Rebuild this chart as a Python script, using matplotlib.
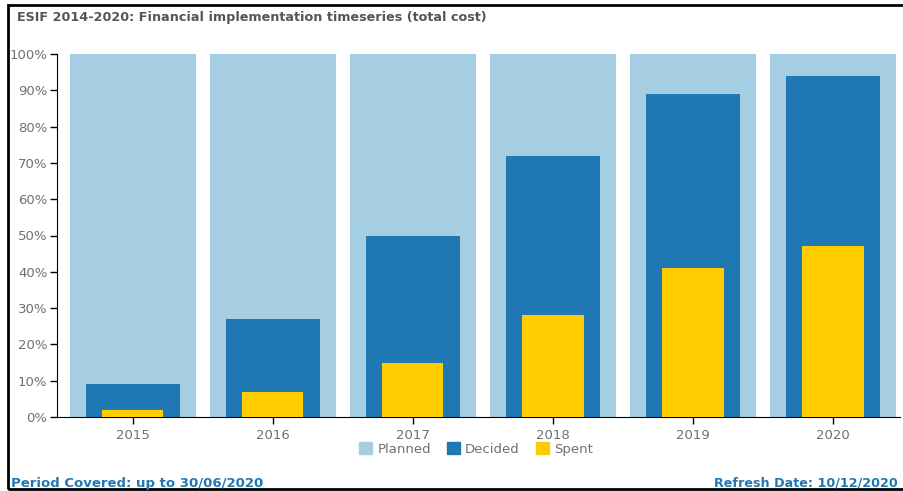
import matplotlib.pyplot as plt
from matplotlib.patches import Rectangle, Patch

years = ['2015', '2016', '2017', '2018', '2019', '2020']
planned = [100, 100, 100, 100, 100, 100]
decided = [9, 27, 50, 72, 89, 94]
spent = [2, 7, 15, 28, 41, 47]

c_planned = '#a6cee3'
c_decided = '#1f78b4'
c_spent = '#ffcc00'
grey = '#707070'

W, H = 904, 491
fig = plt.figure(figsize=(W / 100, H / 100), dpi=100)
plt.rcParams['font.family'] = ['DejaVu Sans']

# frame around the widget
fig.patches.append(Rectangle((8 / W, 2 / H), 1.0, (H - 7) / H, transform=fig.transFigure,
                             fill=False, edgecolor='black', linewidth=2))

ax = fig.add_axes([57 / W, 74 / H, (900 - 57) / W, (417 - 54) / H])
x = list(range(len(years)))
ax.bar(x, planned, width=0.9, color=c_planned, zorder=1)
ax.bar(x, decided, width=0.67, color=c_decided, zorder=2)
ax.bar(x, spent, width=0.44, color=c_spent, zorder=3)

ax.set_xlim(-0.54, 5.48)
ax.set_ylim(0, 100)
ax.set_yticks(range(0, 101, 10))
ax.set_yticklabels([f'{v}%' for v in range(0, 101, 10)])
ax.set_xticks(x)
ax.set_xticklabels(years)
ax.tick_params(axis='both', colors='black', labelcolor=grey, labelsize=9.5, length=5, width=1)
ax.tick_params(axis='y', pad=2)
for s in ['top', 'right']:
    ax.spines[s].set_visible(False)
ax.spines['left'].set_color('black')
ax.spines['bottom'].set_color('black')

handles = [Patch(color=c_planned, label='Planned'),
           Patch(color=c_decided, label='Decided'),
           Patch(color=c_spent, label='Spent')]
fig.legend(handles=handles, loc='center', bbox_to_anchor=(476 / W, 1 - 449 / H), ncol=3,
           frameon=False, fontsize=9.5, handlelength=1.0, handleheight=1.0,
           handletextpad=0.4, columnspacing=1.2, labelcolor=grey)

fig.text(17 / W, 1 - 18 / H, 'ESIF 2014-2020: Financial implementation timeseries (total cost)',
         fontsize=9.2, fontweight='bold', color='#555555', va='center', ha='left')
fig.text(11 / W, 1 - 483 / H, 'Period Covered: up to 30/06/2020',
         fontsize=9.5, fontweight='bold', color='#1f78b4', va='center', ha='left')
fig.text(714 / W, 1 - 483 / H, 'Refresh Date: 10/12/2020',
         fontsize=9.2, fontweight='bold', color='#1f78b4', va='center', ha='left')

fig.savefig('out.png', dpi=100)
